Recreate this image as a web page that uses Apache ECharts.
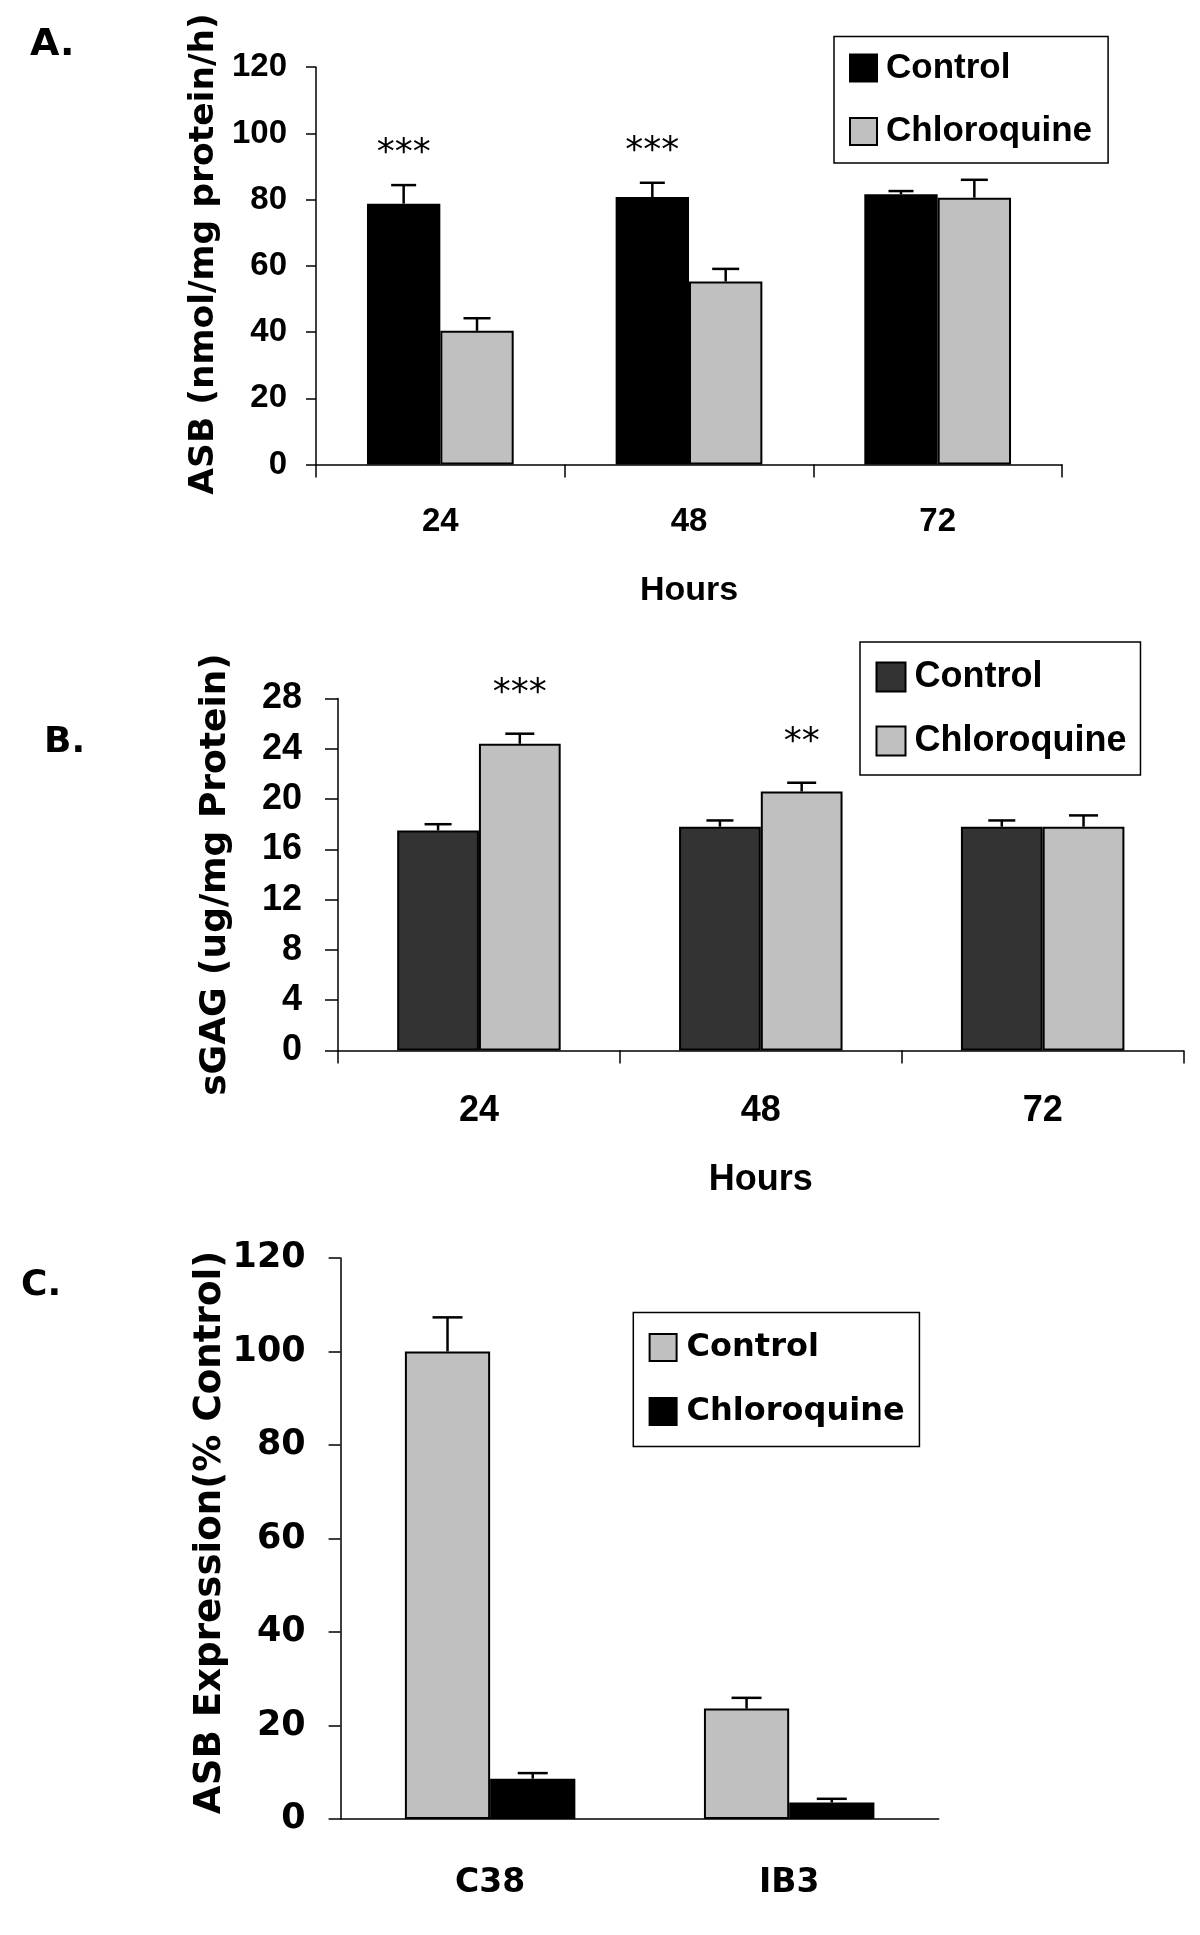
<!DOCTYPE html>
<html><head><meta charset="utf-8">
<script src="https://cdn.jsdelivr.net/npm/echarts@6/dist/echarts.min.js"></script>
<style>
html,body{margin:0;padding:0;background:#fff;width:1200px;height:1935px;overflow:hidden}
.p{position:absolute;left:0;width:1200px}
</style></head>
<body>
<div id="pa" class="p" style="top:0;height:620px"></div>
<div id="pb" class="p" style="top:620px;height:600px"></div>
<div id="pc" class="p" style="top:1220px;height:715px"></div>
<script>
// ---------- Panel A data ----------
const hoursA = ['24', '48', '72'];
const asbControl = [78.8, 80.8, 81.6];
const asbControlErr = [5.6, 4.3, 1.0];
const asbChloro = [40.4, 55.3, 80.6];
const asbChloroErr = [3.8, 3.8, 5.4];
const asbSig = ['***', '***', ''];
const axisA = { min: 0, max: 120, interval: 20 };

// ---------- Panel B data ----------
const hoursB = ['24', '48', '72'];
const sgagControl = [17.5, 17.8, 17.8];
const sgagControlErr = [0.5, 0.5, 0.5];
const sgagChloro = [24.4, 20.6, 17.8];
const sgagChloroErr = [0.8, 0.7, 0.9];
const sgagSig = ['***', '**', ''];
const axisB = { min: 0, max: 28, interval: 4 };

// ---------- Panel C data ----------
const cellLines = ['C38', 'IB3'];
const exprControl = [100, 23.6];
const exprControlErr = [7.3, 2.3];
const exprChloro = [8.6, 3.5];
const exprChloroErr = [1.2, 0.8];
const noSig = ['', ''];
const axisC = { min: 0, max: 120, interval: 20 };

const ARIAL = '"Liberation Sans", Arial, sans-serif';
const DEJA = '"DejaVu Sans", Verdana, sans-serif';

function errorSeries(name, vals, errs, sig, idx, n, gap, capW, sigGap) {
  return {
    type: 'custom', name: name, z: 5, silent: true,
    data: vals.map((v, i) => [i, v, errs[i]]),
    encode: { x: 0, y: 1 },
    renderItem: function (params, api) {
      const i = api.value(0), v = api.value(1), e = api.value(2);
      const p0 = api.coord([i, v]);
      const p1 = api.coord([i, v + e]);
      const band = api.size([1, 0])[0];
      const total = band * (1 - gap);
      const x = p0[0] - total / 2 + total / n * (idx + 0.5);
      const kids = [
        { type: 'line', shape: { x1: x, y1: p0[1], x2: x, y2: p1[1] }, style: { stroke: '#000', lineWidth: 2.5 } },
        { type: 'line', shape: { x1: x - capW / 2, y1: p1[1], x2: x + capW / 2, y2: p1[1] }, style: { stroke: '#000', lineWidth: 2.5 } }
      ];
      const s = sig[params.dataIndex];
      if (s) {
        kids.push({ type: 'text', style: { text: s, x: x, y: p1[1] - sigGap, font: '36px ' + DEJA, fill: '#000', align: 'center', verticalAlign: 'middle' } });
      }
      return { type: 'group', children: kids };
    }
  };
}

function barSeries(name, vals, color, gap) {
  return {
    type: 'bar', name: name, data: vals,
    barGap: '0%', barCategoryGap: (gap * 100) + '%',
    itemStyle: { color: color, borderColor: '#000', borderWidth: 2 },
    emphasis: { disabled: true }
  };
}

function makeOption(cfg) {
  return {
    animation: false,
    backgroundColor: '#fff',
    grid: cfg.grid,
    graphic: [{ type: 'text', x: cfg.tag.x, y: cfg.tag.y, style: { text: cfg.tag.text, font: cfg.tag.font, fill: '#000', verticalAlign: 'middle' } }],
    legend: Object.assign({
      orient: 'vertical', icon: 'rect', selectedMode: false,
      borderColor: '#000', borderWidth: 1.5, backgroundColor: '#fff',
      data: ['Control', 'Chloroquine']
    }, cfg.legend),
    xAxis: {
      type: 'category', data: cfg.cats,
      name: cfg.xName, nameLocation: 'middle', nameGap: cfg.xNameGap,
      nameTextStyle: cfg.xNameStyle,
      axisLine: { lineStyle: { color: '#000', width: 1.5 } },
      axisTick: { show: cfg.xTicks, length: cfg.xTickLen, lineStyle: { color: '#000', width: 1.5 } },
      axisLabel: Object.assign({ color: '#000', interval: 0 }, cfg.xLabel)
    },
    yAxis: {
      type: 'value', min: cfg.axis.min, max: cfg.axis.max, interval: cfg.axis.interval,
      name: cfg.yName, nameLocation: 'middle', nameGap: cfg.yNameGap,
      nameTextStyle: cfg.yNameStyle,
      splitLine: { show: false },
      axisLine: { show: true, lineStyle: { color: '#000', width: 1.5 } },
      axisTick: { show: true, length: cfg.yTickLen, lineStyle: { color: '#000', width: 1.5 } },
      axisLabel: Object.assign({ color: '#000' }, cfg.yLabel)
    },
    series: cfg.series
  };
}

// ---------- Panel A ----------
const gapA = 0.41;
echarts.init(document.getElementById('pa')).setOption(makeOption({
  grid: { left: 316, top: 67.2, width: 746, height: 397.4 },
  tag: { x: 30, y: 45.5, text: 'A.', font: 'bold 38px ' + DEJA },
  legend: { left: 834, top: 36.4, padding: [14, 16, 14, 15], itemGap: 28.5, itemWidth: 27, itemHeight: 27,
    textStyle: { fontFamily: ARIAL, fontWeight: 'bold', fontSize: 35, color: '#000', padding: [0, 0, 0, 4] } },
  cats: hoursA, xName: 'Hours', xNameGap: 109,
  xNameStyle: { fontFamily: ARIAL, fontWeight: 'bold', fontSize: 34, color: '#000' },
  xTicks: true, xTickLen: 13,
  xLabel: { fontFamily: ARIAL, fontWeight: 'bold', fontSize: 33, margin: 41 },
  axis: axisA,
  yName: 'ASB (nmol/mg protein/h)', yNameGap: 87,
  yNameStyle: { fontFamily: DEJA, fontWeight: 'bold', fontSize: 34.5, color: '#000', padding: [0, 0, 0, 24] },
  yTickLen: 10,
  yLabel: { fontFamily: ARIAL, fontWeight: 'bold', fontSize: 33, margin: 29 },
  series: [
    barSeries('Control', asbControl, '#000000', gapA),
    barSeries('Chloroquine', asbChloro, '#c0c0c0', gapA),
    errorSeries('errA1', asbControl, asbControlErr, asbSig, 0, 2, gapA, 25, 31),
    errorSeries('errA2', asbChloro, asbChloroErr, ['', '', ''], 1, 2, gapA, 27, 31)
  ]
}));

// ---------- Panel B ----------
const gapB = 0.42;
echarts.init(document.getElementById('pb')).setOption(makeOption({
  grid: { left: 338, top: 78.5, width: 845.6, height: 352 },
  tag: { x: 44, y: 122.5, text: 'B.', font: 'bold 36px ' + DEJA },
  legend: { left: 860, top: 22, padding: [17, 14, 16, 15.5], itemGap: 28, itemWidth: 29, itemHeight: 29,
    textStyle: { fontFamily: ARIAL, fontWeight: 'bold', fontSize: 36, color: '#000', padding: [0, 0, 0, 4] } },
  cats: hoursB, xName: 'Hours', xNameGap: 112,
  xNameStyle: { fontFamily: ARIAL, fontWeight: 'bold', fontSize: 36, color: '#000' },
  xTicks: true, xTickLen: 13,
  xLabel: { fontFamily: ARIAL, fontWeight: 'bold', fontSize: 36, margin: 43 },
  axis: axisB,
  yName: 'sGAG (ug/mg Protein)', yNameGap: 104,
  yNameStyle: { fontFamily: DEJA, fontWeight: 'bold', fontSize: 36, color: '#000' },
  yTickLen: 13,
  yLabel: { fontFamily: ARIAL, fontWeight: 'bold', fontSize: 36, margin: 36 },
  series: [
    barSeries('Control', sgagControl, '#333333', gapB),
    barSeries('Chloroquine', sgagChloro, '#c0c0c0', gapB),
    errorSeries('errB1', sgagControl, sgagControlErr, ['', '', ''], 0, 2, gapB, 27, 40),
    errorSeries('errB2', sgagChloro, sgagChloroErr, sgagSig, 1, 2, gapB, 29, 40)
  ]
}));

// ---------- Panel C ----------
const gapC = 0.43;
echarts.init(document.getElementById('pc')).setOption(makeOption({
  grid: { left: 340.6, top: 38, width: 598.1, height: 560.9 },
  tag: { x: 21, y: 66, text: 'C.', font: 'bold 36px ' + DEJA },
  legend: { left: 633.3, top: 92.6, padding: [19, 14.7, 19, 15.3], itemGap: 31.8, itemWidth: 27, itemHeight: 27,
    textStyle: { fontFamily: DEJA, fontWeight: 'bold', fontSize: 32, color: '#000', padding: [0, 0, 0, 5] } },
  cats: cellLines, xName: '', xNameGap: 0,
  xNameStyle: {},
  xTicks: false, xTickLen: 0,
  xLabel: { fontFamily: DEJA, fontWeight: 'bold', fontSize: 33, margin: 48 },
  axis: axisC,
  yName: 'ASB Expression(% Control)', yNameGap: 110,
  yNameStyle: { fontFamily: DEJA, fontWeight: 'bold', fontSize: 37.2, color: '#000', padding: [0, 0, 0, 12] },
  yTickLen: 12,
  yLabel: { fontFamily: DEJA, fontWeight: 'bold', fontSize: 35, margin: 35 },
  series: [
    barSeries('Control', exprControl, '#c0c0c0', gapC),
    barSeries('Chloroquine', exprChloro, '#000000', gapC),
    errorSeries('errC1', exprControl, exprControlErr, noSig, 0, 2, gapC, 30, 30),
    errorSeries('errC2', exprChloro, exprChloroErr, noSig, 1, 2, gapC, 30, 30)
  ]
}));
</script>
</body></html>
